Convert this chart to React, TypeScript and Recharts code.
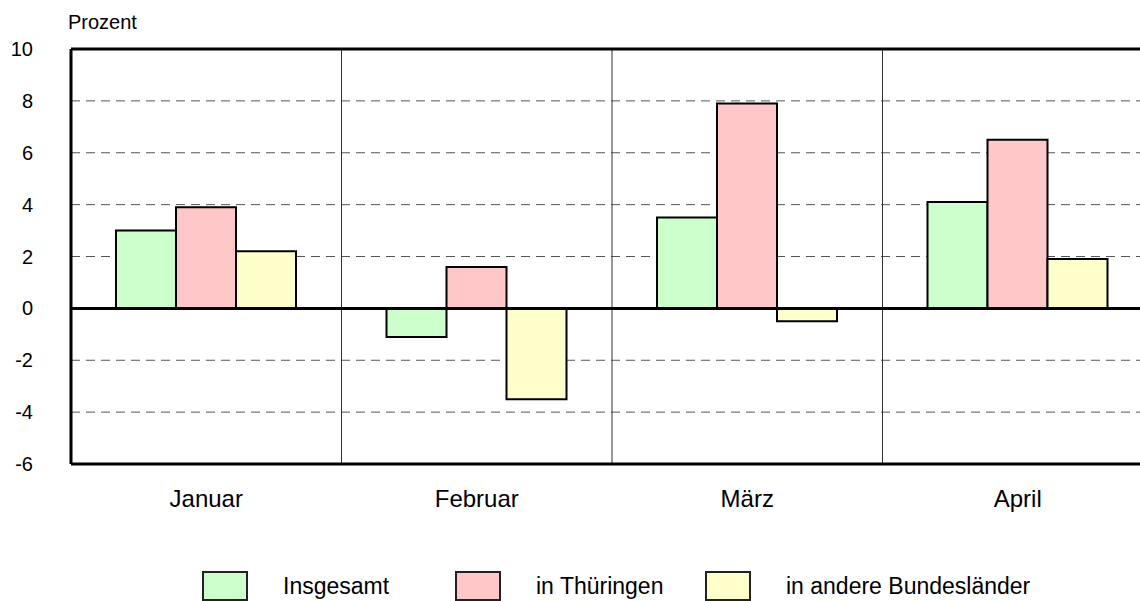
import { BarChart, Bar, XAxis, YAxis, CartesianGrid, ReferenceLine } from 'recharts'

const months = ['Januar', 'Februar', 'März', 'April']
const insgesamt = [3.0, -1.1, 3.5, 4.1]
const thueringen = [3.9, 1.6, 7.9, 6.5]
const andere = [2.2, -3.5, -0.5, 1.9]
const yTicks = [-6, -4, -2, 0, 2, 4, 6, 8, 10]

const series = [
  { key: 'insgesamt', name: 'Insgesamt', color: '#CCFFCC' },
  { key: 'thueringen', name: 'in Thüringen', color: '#FFC8C8' },
  { key: 'andere', name: 'in andere Bundesländer', color: '#FFFFCC' },
]

const data = months.map((month, i) => ({
  month,
  insgesamt: insgesamt[i],
  thueringen: thueringen[i],
  andere: andere[i],
}))

const font = '"Liberation Sans", Arial, sans-serif'
const legendLeft = [202, 455, 705]

export default function App() {
  return (
    <div
      style={{
        position: 'absolute',
        left: 0,
        top: 0,
        width: 1140,
        height: 601,
        overflow: 'hidden',
        background: '#fff',
        fontFamily: font,
      }}
    >
      <div style={{ position: 'absolute', left: 68, top: 11, fontSize: 20, color: '#000' }}>Prozent</div>
      <BarChart
        width={1160}
        height={601}
        data={data}
        margin={{ top: 49, right: 7, left: 0, bottom: 97 }}
        barCategoryGap={45}
        barGap={0}
        style={{ fontFamily: font }}
      >
        <CartesianGrid vertical={false} strokeDasharray="9 6" stroke="#555" />
        <XAxis
          dataKey="month"
          height={40}
          tickLine={false}
          tickSize={0}
          tickMargin={26}
          axisLine={{ stroke: '#000', strokeWidth: 3 }}
          tick={{ fill: '#000', fontSize: 24 }}
        />
        <YAxis
          width={71}
          domain={[-6, 10]}
          ticks={yTicks}
          interval={0}
          tickLine={false}
          tickSize={0}
          tickMargin={38}
          axisLine={{ stroke: '#000', strokeWidth: 3 }}
          tick={{ fill: '#000', fontSize: 20 }}
        />
        {/* thin lines between the months */}
        {months.slice(1).map((m) => (
          <ReferenceLine key={m} x={m} position="start" stroke="#333" strokeWidth={1} />
        ))}
        {series.map((s) => (
          <Bar
            key={s.key}
            dataKey={s.key}
            name={s.name}
            fill={s.color}
            stroke="#000"
            strokeWidth={2}
            isAnimationActive={false}
          />
        ))}
        <ReferenceLine y={0} stroke="#000" strokeWidth={3} />
        <ReferenceLine y={10} stroke="#000" strokeWidth={3} />
      </BarChart>
      {series.map((s, i) => (
        <div key={s.key} style={{ position: 'absolute', top: 571, left: legendLeft[i], display: 'flex', alignItems: 'center' }}>
          <div
            style={{
              width: 46,
              height: 30,
              boxSizing: 'border-box',
              border: '2px solid #222',
              background: s.color,
            }}
          />
          <span style={{ marginLeft: 35, fontSize: 23, lineHeight: '30px', color: '#000' }}>{s.name}</span>
        </div>
      ))}
    </div>
  )
}
